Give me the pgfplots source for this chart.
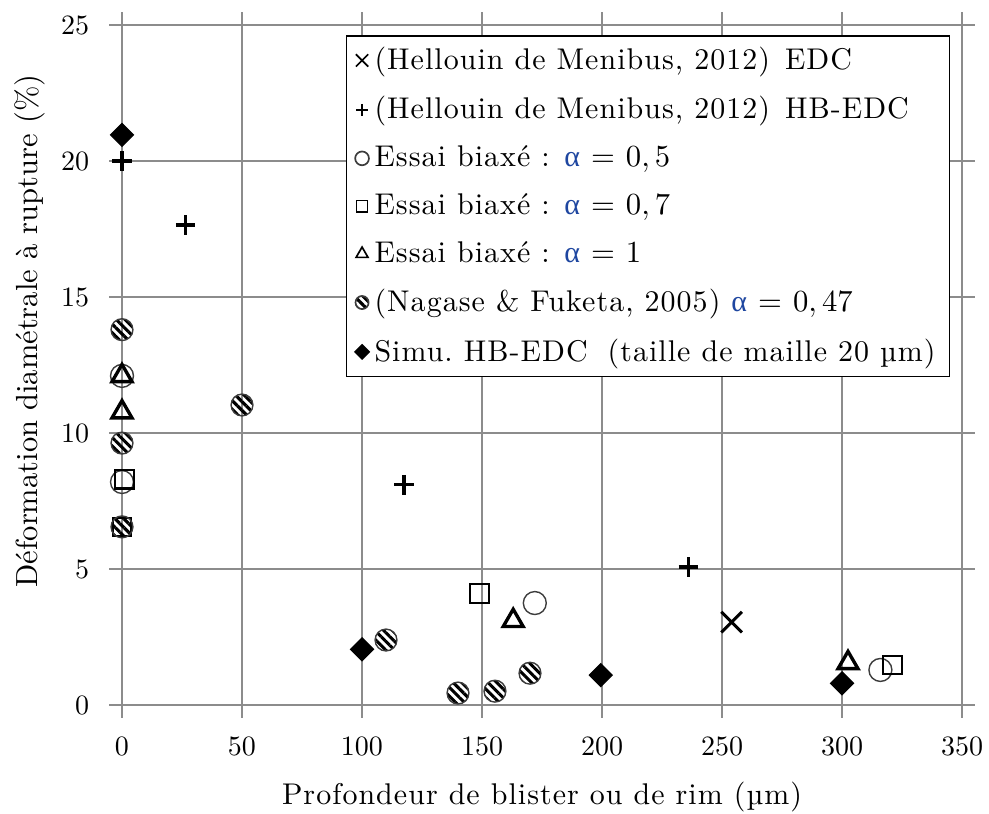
\documentclass[border=0pt]{standalone}
\usepackage{fontspec}
\setmainfont{lmroman10-regular.otf}[BoldFont=lmroman10-bold.otf, ItalicFont=lmroman10-italic.otf]
\newfontfamily\lsfont{lmroman10-regular.otf}[LetterSpace=3.5]
\newfontfamily\grk{Liberation Serif}
\usepackage{pgfplots}
\pgfplotsset{compat=1.18}
\usetikzlibrary{patterns.meta}
\definecolor{gridgray}{RGB}{140,140,140}
\definecolor{alphablue}{RGB}{30,70,160}
\definecolor{circgray}{RGB}{60,60,60}
\newcommand{\al}{{\grk\color{alphablue}α}}
\begin{document}
\begin{tikzpicture}
\useasboundingbox (-43.57pt,-38.57pt) rectangle (309.64pt,251.79pt);
\begin{axis}[
  scale only axis, width=300pt, height=242.86pt,
  xmin=0, xmax=350, ymin=0, ymax=25,
  xtick={0,50,...,350}, ytick={0,5,...,25},
  grid=major, major grid style={gridgray, line width=0.6pt},
  axis line style={gridgray, line width=0.6pt},
  tick style={gridgray, line width=0.6pt},
  tick align=outside, major tick length=4.5pt,
  xticklabel shift=3.7pt, yticklabel shift=3.7pt,
  xlabel={Profondeur de blister ou de rim (µm)},
  ylabel={Déformation diamétrale à rupture (\%)},
  every axis x label/.style={at={(axis description cs:0.5,-0.1355)}, anchor=center, font=\fontsize{10.7}{13}\lsfont},
  every axis y label/.style={at={(axis description cs:-0.1097,0.55)}, rotate=90, anchor=center, font=\fontsize{10.9}{13}\selectfont},
  legend style={at={(rel axis cs:0.986,0.985)}, anchor=north east, draw=black, line width=0.5pt, fill=white, legend cell align=left, row sep=4.1pt, font=\fontsize{10.7}{13}\lsfont, inner xsep=3pt},
  legend image code/.code={\draw[#1] plot coordinates {(0pt,0pt)};},
  legend image post style={line width=0.6pt, every mark/.append style={scale=0.6}},
]
\addplot[only marks, mark=x, mark size=5.2pt, line width=1.1pt] coordinates {(254,3.05)};
\addlegendentry{(Hellouin de Menibus, 2012)\hspace{0.5em}EDC}
\addplot[only marks, mark=+, mark size=3.5pt, line width=1.2pt] coordinates {(0,20) (26.5,17.65) (117.5,8.1) (236,5.07)};
\addlegendentry{(Hellouin de Menibus, 2012)\hspace{0.5em}HB-EDC}
\addplot[only marks, mark=o, mark size=4.1pt, draw=circgray, line width=0.5pt] coordinates {(0,8.2) (0,12.1) (172,3.75) (316,1.29)};
\addlegendentry{Essai biaxé : \al\ $=$ $0,5$}
\addplot[only marks, mark=square, mark size=3.3pt, line width=0.8pt] coordinates {(1,8.3) (0,6.55) (149,4.1) (321,1.47)};
\addlegendentry{Essai biaxé : \al\ $=$ $0,7$}
\addplot[only marks, mark=triangle, mark size=4.1pt, line width=1.2pt] coordinates {(0,12.1) (0,10.77) (163,3.1) (302.5,1.55)};
\addlegendentry{Essai biaxé : \al\ $=$ $1$}
\addplot[only marks, mark=*, mark size=3.9pt, line width=0.5pt, draw=circgray, mark options={pattern={Lines[angle=-45,distance=2.2pt,line width=1.1pt]}, pattern color=black}] coordinates {(0,13.8) (0,9.63) (0,6.55) (50,11.03) (110,2.39) (140,0.44) (155.4,0.51) (170,1.17)};
\addlegendentry{(Nagase \& Fuketa, 2005) \al\ $=$ $0,47$}
\addplot[only marks, mark=square*, mark size=2.9pt, mark options={rotate=45}, fill=black] coordinates {(0,20.96) (100,2.05) (199.5,1.1) (300,0.8)};
\addlegendentry{Simu.\ HB-EDC\hspace{0.3em} (taille de maille 20 µm)}
\end{axis}
\end{tikzpicture}
\end{document}
